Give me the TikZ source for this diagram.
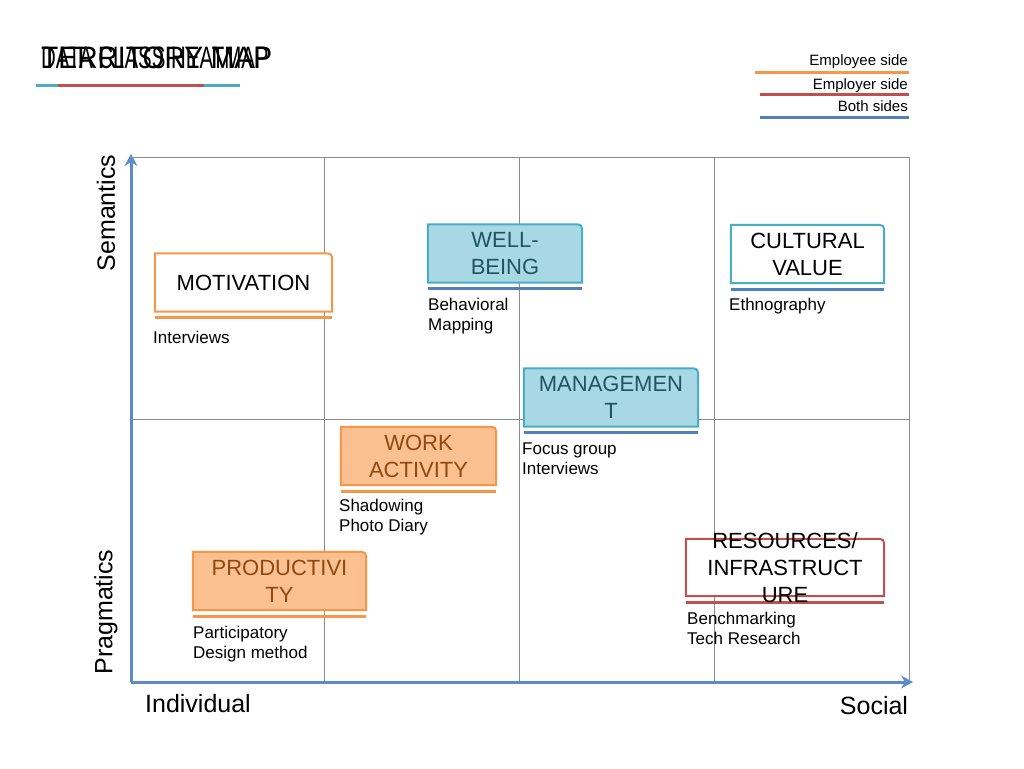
\documentclass[tikz,border=0pt]{standalone}
\usepackage{fontspec}
\setmainfont{Liberation Sans}
\usetikzlibrary{arrows.meta,backgrounds}
\definecolor{empcol}{HTML}{F79646}
\definecolor{empfill}{HTML}{FAC090}
\definecolor{emptext}{HTML}{8E4A12}
\definecolor{redcol}{HTML}{C0504D}
\definecolor{bothcol}{HTML}{4F81BD}
\definecolor{tealcol}{HTML}{4BACC6}
\definecolor{tealfill}{HTML}{A9D8E5}
\definecolor{tealtext}{HTML}{1F5563}
\definecolor{axiscol}{HTML}{5B8BCB}
\definecolor{gridcol}{HTML}{8C8C8C}

\begin{document}
\begin{tikzpicture}[
  x=1pt,y=-1pt,
  tab/.style={minimum height=58pt,inner sep=0pt},
  tabtext/.style={font=\fontsize{22}{27}\selectfont,align=center,inner sep=0pt},
  note/.style={anchor=base west,align=left,inner sep=0pt,font=\fontsize{17}{20.5}\selectfont},
  legend/.style={anchor=base east,inner sep=0pt,font=\fontsize{15}{18}\selectfont},
  title/.style={anchor=west,inner sep=0pt,font=\fontsize{31}{34}\selectfont},
  axlbl/.style={inner sep=0pt,font=\fontsize{25}{30}\selectfont},
  tabline/.style={line width=2pt},
  uline/.style={line width=3pt},
  gridline/.style={gridcol,line width=1pt},
  axis/.style={-{Stealth[length=12pt,width=13pt,inset=4pt]},axiscol,line width=3pt}
]
  \useasboundingbox (0,0) rectangle (1024,768);

  % title
  \node[title] (ttl) at (41,58) {\scalebox{0.91}[1]{TERRITORY MAP}};
  \node[title] (ttlb) at (41,58) {\scalebox{0.66}[1]{DATA CLASS HEATMAP}};
  \draw[uline,tealcol] (36,85) -- (240,85);
  \draw[uline,redcol] (58,85) -- (204,85);

  % legend
  \node[legend] (lgemp) at (908,66) {Employee side};
  \node[legend] (lgempr) at (908,89) {Employer side};
  \node[legend] (lgboth) at (908,111) {Both sides};
  \draw[uline,empcol] (755,72) -- (909,72);
  \draw[uline,redcol] (760,94) -- (909,94);
  \draw[uline,bothcol] (760,117) -- (909,117);

  % boxes
  \node[tab,minimum width=177pt,label={[tabtext]center:MOTIVATION}] (motiv) at (243.5,282.5) {};
  \node[tab,minimum width=154pt,label={[tabtext,text=tealtext]center:{WELL-\\BEING}}] (well) at (505,253.5) {};
  \node[tab,minimum width=153pt,label={[tabtext]center:{CULTURAL\\VALUE}}] (cult) at (807.5,254) {};
  \node[tab,minimum width=174pt,label={[tabtext,text=tealtext]center:{MANAGEMEN\\T}}] (mgmt) at (611,397.5) {};
  \node[tab,minimum width=155pt,label={[tabtext,text=emptext]center:{WORK\\ACTIVITY}}] (work) at (418.5,456) {};
  \node[tab,minimum width=173pt,label={[tabtext,text=emptext]center:{PRODUCTIVI\\TY}}] (prod) at (279.5,581) {};
  \node[tab,minimum width=198pt,minimum height=57pt,label={[tabtext]center:{RESOURCES/\\INFRASTRUCT\\URE}}] (res) at (785,567.5) {};

  % methods
  \node[note] (motivn) at (153,343) {Interviews};
  \node[note] (welln) at (428,330.5) {Behavioral\\Mapping};
  \node[note] (cultn) at (729,310) {Ethnography};
  \node[note] (mgmtn) at (522,474.5) {Focus group\\Interviews};
  \node[note] (workn) at (339,531.5) {Shadowing\\Photo Diary};
  \node[note] (prodn) at (193,658.5) {Participatory\\Design method};
  \node[note] (resn) at (687,644.5) {Benchmarking\\Tech Research};

  % axes labels
  \node[axlbl,rotate=90] (sem) at (106,213) {Semantics};
  \node[axlbl,rotate=90] (prag) at (106,612) {Pragmatics};
  \node[axlbl] (indiv) at (198,704) {Individual};
  \node[axlbl] (soc) at (874,706) {Social};

  \begin{scope}[on background layer]
    \foreach \gx in {324,519,714,909}
      \draw[gridline] (\gx,157) -- (\gx,682);
    \foreach \gy in {157,419}
      \draw[gridline] (131,\gy) -- (909,\gy);
    \foreach \b/\f/\c/\u in {motiv/white/empcol/empcol,well/tealfill/tealcol/bothcol,
        cult/white/tealcol/bothcol,mgmt/tealfill/tealcol/bothcol,work/empfill/empcol/empcol,
        prod/empfill/empcol/empcol,res/white/redcol/redcol}
    {
      \draw[tabline,draw=\c,fill=\f] (\b.south west) -- (\b.north west)
        -- ([xshift=-10pt]\b.north east) .. controls (\b.north east) .. ([yshift=-10pt]\b.north east)
        -- (\b.south east) -- cycle;
      \draw[uline,draw=\u] ([yshift=-6pt]\b.south west) -- ([yshift=-6pt]\b.south east);
    }
  \end{scope}

  % axes
  \coordinate (orig) at (131,682);
  \draw[axis] (orig) -- (131,154);
  \draw[axis] (orig) -- (913,682);
\end{tikzpicture}
\end{document}
